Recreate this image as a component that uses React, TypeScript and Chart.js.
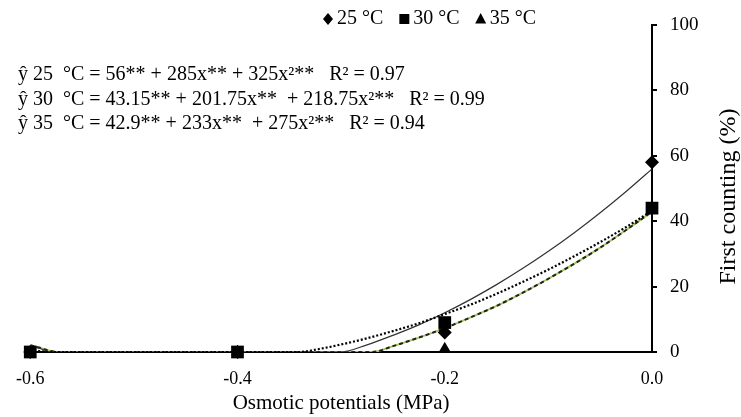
import React, { useEffect, useRef } from "react";
import { Chart, registerables } from "chart.js";
Chart.register(...registerables);

const xTicks = [-0.6, -0.4, -0.2, 0.0];
const yTicks = [0, 20, 40, 60, 80, 100];
const seriesLabels = ["25 °C", "30 °C", "35 °C"];

// observed points
const obsX = [-0.6, -0.4, -0.2, 0.0];
const obs25 = [0, 0, 6, 58];
const obs30 = [0, 0, 9, 44];
const obs35 = [0, 0, 1, 44];

// fitted curves
const fitX25 = [-0.6, -0.59, -0.58, -0.3, -0.275, -0.25, -0.225, -0.2, -0.175, -0.15, -0.125, -0.1, -0.075, -0.05, -0.025, 0];
const fit25 = [2.0, 1.0, 0, 0, 2.2, 5.1, 8.3, 12.0, 16.1, 20.6, 25.5, 30.8, 36.5, 42.6, 49.1, 56];
const fitX30 = [-0.6, -0.59, -0.58, -0.34, -0.325, -0.3, -0.275, -0.25, -0.225, -0.2, -0.175, -0.15, -0.125, -0.1, -0.075, -0.05, -0.025, 0];
const fit30 = [0.85, 0.27, 0, 0, 0.7, 2.3, 4.2, 6.4, 8.8, 11.6, 14.5, 17.8, 21.4, 25.2, 29.3, 33.6, 38.2, 43.2];
const fitX35 = [-0.6, -0.59, -0.58, -0.575, -0.27, -0.25, -0.225, -0.2, -0.175, -0.15, -0.125, -0.1, -0.075, -0.05, -0.025, 0];
const fit35 = [2.1, 1.2, 0.3, 0, 0, 1.8, 4.4, 7.3, 10.6, 14.1, 18.1, 22.4, 27.0, 31.9, 37.3, 42.9];

const equations = [
  "ŷ 25  °C = 56** + 285x** + 325x²**   R² = 0.97",
  "ŷ 30  °C = 43.15** + 201.75x**  + 218.75x²**   R² = 0.99",
  "ŷ 35  °C = 42.9** + 233x**  + 275x²**   R² = 0.94",
];
const xTitle = "Osmotic potentials (MPa)";
const yTitle = "First counting (%)";

const FAMILY = "'Liberation Serif', 'Times New Roman', serif";
const FS = 18;

const pairs = (xs: number[], ys: number[]) => xs.map((x, i) => ({ x, y: ys[i] }));

function drawMarker(ctx: CanvasRenderingContext2D, shape: string, cx: number, cy: number) {
  ctx.beginPath();
  if (shape === "diamond") {
    ctx.moveTo(cx, cy - 6);
    ctx.lineTo(cx + 5, cy);
    ctx.lineTo(cx, cy + 6);
    ctx.lineTo(cx - 5, cy);
  } else if (shape === "square") {
    ctx.rect(cx - 5, cy - 5, 10, 10);
  } else {
    ctx.moveTo(cx, cy - 6);
    ctx.lineTo(cx + 5.5, cy + 4.5);
    ctx.lineTo(cx - 5.5, cy + 4.5);
  }
  ctx.closePath();
  ctx.fill();
}

const decorPlugin = {
  id: "decor",
  afterDraw(chart: any) {
    const ctx: CanvasRenderingContext2D = chart.ctx;
    const area = chart.chartArea;
    ctx.save();
    ctx.fillStyle = "#000";
    ctx.textBaseline = "middle";
    ctx.textAlign = "left";
    // legend
    ctx.font = `20px ${FAMILY}`;
    const shapes = ["diamond", "square", "triangle"];
    let mx = 328;
    const ly = 19;
    seriesLabels.forEach((lab, i) => {
      drawMarker(ctx, shapes[i], mx, ly);
      ctx.fillText(lab, mx + 9, ly);
      mx = mx + 9 + ctx.measureText(lab).width + 21;
    });
    // equations
    ctx.font = `20px ${FAMILY}`;
    const ey = [75, 100, 124];
    equations.forEach((t, i) => ctx.fillText(t, 18, ey[i]));
    // y title (reads bottom to top)
    ctx.font = `24px ${FAMILY}`;
    ctx.translate(729, (area.top + area.bottom) / 2 + 8);
    ctx.rotate(-Math.PI / 2);
    ctx.textAlign = "center";
    ctx.fillText(yTitle, 0, 0);
    ctx.restore();
  },
};

export default function App() {
  const ref = useRef<HTMLCanvasElement>(null);
  useEffect(() => {
    if (!ref.current) return;
    const markerBase = { type: "line" as const, showLine: false, pointBackgroundColor: "#000", pointBorderWidth: 0, clip: false as any };
    const chart = new Chart(ref.current, {
      type: "line",
      data: {
        datasets: [
          { ...markerBase, label: seriesLabels[0], data: pairs(obsX, obs25), pointStyle: "rectRot", pointRadius: 7, order: 1 },
          { ...markerBase, label: seriesLabels[2], data: pairs(obsX, obs35), pointStyle: "triangle", pointRadius: 7, order: 3 },
          { ...markerBase, label: seriesLabels[1], data: pairs(obsX, obs30), pointStyle: "rect", pointRadius: 9, order: 2 },
          { label: "fit25", data: pairs(fitX25, fit25), borderColor: "#333", borderWidth: 1.2, pointRadius: 0, cubicInterpolationMode: "monotone", order: 6 },
          { label: "fit30", data: pairs(fitX30, fit30), borderColor: "#000", borderWidth: 2.2, borderDash: [2, 2], pointRadius: 0, cubicInterpolationMode: "monotone", order: 5 },
          { label: "fit35g", data: pairs(fitX35, fit35), borderColor: "#a3c95a", borderWidth: 2, pointRadius: 0, cubicInterpolationMode: "monotone", order: 8 },
          { label: "fit35k", data: pairs(fitX35, fit35), borderColor: "#222", borderWidth: 2, borderDash: [4, 3], pointRadius: 0, cubicInterpolationMode: "monotone", order: 7 },
        ],
      },
      options: {
        animation: false,
        responsive: true,
        maintainAspectRatio: false,
        layout: { padding: { left: 28, top: 25, right: 0, bottom: 0 } },
        plugins: { legend: { display: false }, tooltip: { enabled: false } },
        scales: {
          x: {
            type: "linear",
            min: -0.6,
            max: 0,
            afterBuildTicks: (s: any) => { s.ticks = xTicks.map((v) => ({ value: v })); },
            afterFit: (s: any) => { s.height = 65; },
            grid: { display: false, drawTicks: false },
            border: { display: true, color: "#000", width: 2 },
            ticks: { color: "#000", padding: 16, font: { family: FAMILY, size: FS }, callback: (v: any) => Number(v).toFixed(1) },
            title: { display: true, text: xTitle, color: "#000", padding: { top: 0, bottom: 1 }, font: { family: FAMILY, size: 21 } },
          },
          y: {
            position: "right",
            min: 0,
            max: 100,
            afterBuildTicks: (s: any) => { s.ticks = yTicks.map((v) => ({ value: v })); },
            afterFit: (s: any) => { s.width = 89; },
            grid: { display: true, drawOnChartArea: false, drawTicks: true, tickLength: 5, color: "#000", lineWidth: 2 },
            border: { display: true, color: "#000", width: 2 },
            ticks: { color: "#000", padding: 13, font: { family: FAMILY, size: 19 } },
          },
        },
      },
      plugins: [decorPlugin],
    } as any);
    return () => chart.destroy();
  }, []);
  return (
    <div style={{ position: "absolute", left: 0, top: 0, width: 741, height: 417, background: "#fff" }}>
      <canvas ref={ref} />
    </div>
  );
}
